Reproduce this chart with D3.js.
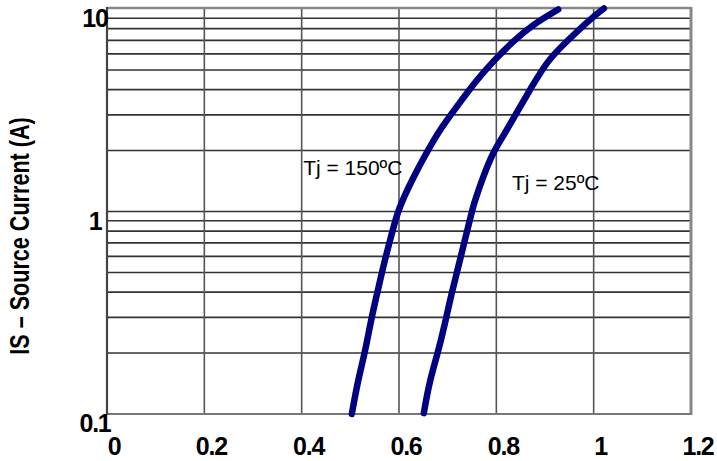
<!DOCTYPE html>
<html><head><meta charset="utf-8">
<script src="https://cdn.jsdelivr.net/npm/d3@7"></script>
<style>body{margin:0;background:#fff}svg{display:block}</style>
</head><body>
<svg id="c" width="717" height="461"></svg>
<script>
// Data (forward voltage V vs source current A)
const v150 = [0.503,0.516,0.530,0.544,0.557,0.571,0.586,0.598,0.627,0.657,0.684,0.719,0.760,0.797,0.834,0.875,0.927];
const i150 = [0.1,0.148,0.201,0.303,0.412,0.579,0.788,1.02,1.44,1.96,2.54,3.30,4.48,5.63,6.91,8.38,9.94];
const v25 = [0.651,0.662,0.680,0.695,0.705,0.719,0.732,0.746,0.752,0.773,0.793,0.814,0.842,0.873,0.906,0.944,0.992,1.021];
const i25 = [0.101,0.143,0.201,0.283,0.367,0.500,0.672,0.913,1.06,1.49,1.96,2.35,3.08,4.14,5.60,6.90,8.88,10.06];
const xTicks = [0,0.2,0.4,0.6,0.8,1,1.2];
const xTickLabels = ["0","0.2","0.4","0.6","0.8","1","1.2"];
const yTicks = [0.1,1,10];
const yTickLabels = ["0.1","1","10"];
const yGrid = [0.2,0.3,0.4,0.5,0.6,0.7,0.8,0.9,1,2,3,4,5,6,7,8,9];
const seriesLabels = ["Tj = 150ºC","Tj = 25ºC"];
const yTitle = "IS – Source Current (A)";

const L=107,R=691,T=9,B=414;
const x=d3.scaleLinear().domain([0,1.2]).range([L,R]);
const y=d3.scaleLog().domain([0.1,10]).range([B,T]);
const svg=d3.select("#c");

// horizontal grid
svg.append("g").selectAll("line").data(yGrid).join("line")
  .attr("x1",L).attr("x2",R).attr("y1",d=>y(d)).attr("y2",d=>y(d))
  .attr("stroke","#333").attr("stroke-width",1.6);
// vertical grid
svg.append("g").selectAll("line").data(xTicks.slice(1,-1)).join("line")
  .attr("x1",d=>x(d)).attr("x2",d=>x(d)).attr("y1",T).attr("y2",B)
  .attr("stroke","#555").attr("stroke-width",1.6);
// borders
svg.append("line").attr("x1",L).attr("x2",R).attr("y1",T-1).attr("y2",T-1).attr("stroke","#888").attr("stroke-width",2.5);
svg.append("line").attr("x1",R).attr("x2",R).attr("y1",T-2).attr("y2",B+1).attr("stroke","#888").attr("stroke-width",3);
svg.append("line").attr("x1",L).attr("x2",R).attr("y1",B).attr("y2",B).attr("stroke","#777").attr("stroke-width",2.2);
svg.append("line").attr("x1",L).attr("x2",L).attr("y1",T-2).attr("y2",B+1).attr("stroke","#444").attr("stroke-width",2.2);

// curves
const line=d3.line().x(d=>x(d[0])).y(d=>y(d[1])).curve(d3.curveBasis);
[[v150,i150],[v25,i25]].forEach(([vs,is])=>{
  svg.append("path").datum(vs.map((v,k)=>[v,is[k]])).attr("d",line)
    .attr("fill","none").attr("stroke","#000080").attr("stroke-width",6.5)
    .attr("stroke-linecap","round").attr("stroke-linejoin","round");
});

// tick labels
const tickFont="'Liberation Sans', Arial, sans-serif";
svg.append("g").selectAll("text").data(xTicks).join("text")
  .attr("x",d=>x(d)+7).attr("y",455).attr("text-anchor","middle")
  .attr("font-family",tickFont).attr("font-weight","bold").attr("font-size",25)
  .attr("letter-spacing",-1.2).attr("fill","#000")
  .text((d,k)=>xTickLabels[k]);
svg.append("g").selectAll("text").data(yTicks).join("text")
  .attr("x",L-12).attr("y",d=>y(d)+18).attr("text-anchor","middle")
  .attr("font-family",tickFont).attr("font-weight","bold").attr("font-size",25)
  .attr("letter-spacing",-1.2).attr("fill","#000")
  .text((d,k)=>yTickLabels[k]);

// axis title
svg.append("text").attr("transform","translate(29,236) rotate(-90) scale(0.8,1)")
  .attr("text-anchor","middle").attr("font-family",tickFont).attr("font-weight","bold")
  .attr("font-size",27).attr("fill","#000").text(yTitle);

// series labels
const lab=[[0.403,175],[0.832,190]];
svg.append("g").selectAll("text").data(seriesLabels).join("text")
  .attr("x",(d,k)=>x(lab[k][0])).attr("y",(d,k)=>lab[k][1])
  .attr("font-family",tickFont).attr("font-size",21).attr("fill","#000")
  .text(d=>d);
</script>
</body></html>
